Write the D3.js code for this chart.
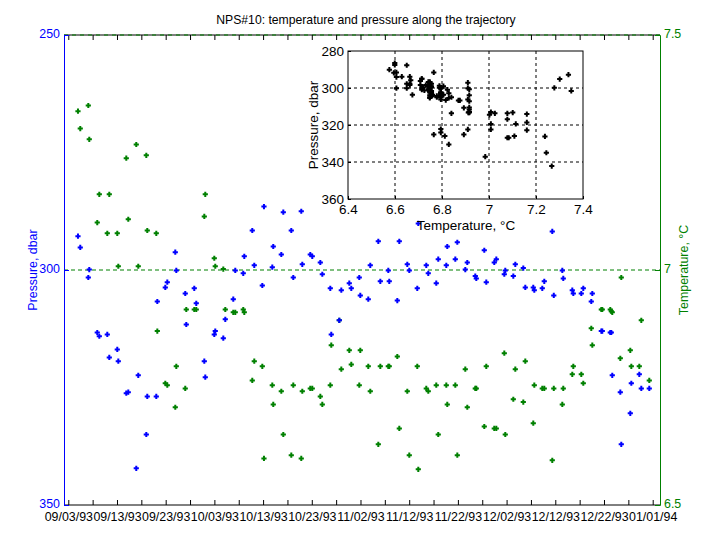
<!DOCTYPE html>
<html><head><meta charset="utf-8">
<script src="https://cdn.jsdelivr.net/npm/d3@7"></script>
<style>
body{margin:0;background:#fff;}
text{font-family:"Liberation Sans",Arial,Helvetica,sans-serif;}
</style>
</head><body>
<svg id="c" width="705" height="541"></svg>
<script>
// ---- data ----
const startDate = new Date(1993, 8, 3);
const dayOffsets = [1.99,2.46,4.11,4.31,5.95,6.37,8.01,8.42,10.06,10.27,11.91,12.32,13.96,14.37,16.02,16.22,18.07,18.28,19.92,20.33,21.97,22.18,24.02,24.23,25.87,26.28,27.93,28.13,29.98,30.18,31.83,32.24,33.88,34.29,35.93,36.14,37.78,38.19,39.84,40.18,41.89,42.09,43.74,44.15,45.79,46.20,47.84,48.05,49.69,50.10,51.75,52.16,53.80,54.00,55.65,56.06,57.70,58.11,59.75,59.96,61.60,62.01,63.66,64.07,65.71,65.91,67.56,67.97,69.61,70.02,71.66,71.87,73.51,73.92,75.56,75.97,77.62,77.82,79.47,79.88,81.52,81.93,83.57,83.78,85.42,85.83,87.47,87.89,89.53,89.73,91.38,91.79,93.43,93.84,95.48,95.69,97.33,97.74,99.38,99.69,101.44,101.64,103.49,103.70,105.34,105.75,107.39,107.60,109.45,109.65,111.29,111.50,111.70,113.35,113.55,115.40,115.61,117.25,117.66,119.30];
const pressure = [292.8,295.2,301.6,299.9,313.3,314.1,313.7,318.6,316.9,319.4,
326.2,326.0,342.2,322.4,335.0,326.9,326.9,306.7,303.7,302.6,
296.2,300.1,305.0,311.6,303.9,307.1,319.4,322.8,313.7,313.0,
314.5,310.5,306.2,300.1,300.7,297.1,291.6,299.0,303.3,286.5,
299.4,295.0,296.7,287.7,291.6,301.6,287.5,298.8,296.7,297.1,
298.4,300.9,303.9,313.7,310.7,304.3,302.8,303.9,301.6,305.4,
306.2,299.0,293.9,302.4,300.1,302.4,306.5,293.9,298.8,300.1,
303.9,290.1,299.0,300.7,302.8,297.7,299.0,295.0,297.7,294.1,
299.9,298.4,301.3,301.8,295.8,302.6,298.4,297.7,300.9,300.1,
301.3,298.8,299.6,303.7,303.7,304.3,303.9,302.4,291.8,305.4,
300.1,301.8,304.3,305.0,305.0,303.9,306.7,305.0,313.0,313.0,
313.3,313.3,322.4,326.0,337.1,330.5,324.1,322.2,325.2,325.2];
const temperature = [7.338,7.301,7.350,7.278,7.101,7.161,7.078,7.161,7.078,7.008,
7.238,7.108,7.267,7.008,7.244,7.084,7.078,6.870,6.759,6.755,
6.708,6.795,6.748,6.916,6.916,6.916,7.114,7.161,7.025,7.008,
7.002,6.916,6.910,6.910,6.916,6.910,6.765,6.806,6.795,6.599,
6.755,6.714,6.742,6.650,6.606,6.755,6.599,6.742,6.748,6.748,
6.731,6.714,6.755,6.840,6.893,6.789,6.829,6.799,6.755,6.829,
6.795,6.742,6.629,6.795,6.795,6.795,6.816,6.663,6.742,6.606,
6.795,6.576,6.748,6.742,6.755,6.650,6.755,6.714,6.755,6.606,
6.789,6.708,6.748,6.748,6.667,6.795,6.663,6.663,6.823,6.650,
6.725,6.789,6.719,6.806,6.674,6.755,6.748,6.748,6.595,6.748,
6.714,6.748,6.778,6.795,6.778,6.759,6.876,6.840,6.916,6.916,
6.916,6.912,6.910,6.812,6.984,6.829,6.795,6.795,6.893,6.765];
const dateTickLabels = ["09/03/93","09/13/93","09/23/93","10/03/93","10/13/93","10/23/93","11/02/93","11/12/93","11/22/93","12/02/93","12/12/93","12/22/93","01/01/94"];
const pressureTicks = [250,300,350];
const tempTicks = [6.5,7,7.5];
const insetTempTicks = [6.4,6.6,6.8,7,7.2,7.4];
const insetPressTicks = [280,300,320,340,360];
const titleText = "NPS#10: temperature and pressure along the trajectory";

// ---- layout ----
const svg = d3.select("#c");
const L = 64, R = 660, T = 35, B = 505;
const DAY = 864e5;
const x = d3.scaleTime()
  .domain([new Date(startDate.getTime() - 0.88*DAY), new Date(startDate.getTime() + 121.5*DAY)])
  .range([L, R]);
const yP = d3.scaleLinear().domain([250, 350]).range([T, B]);
const yT = d3.scaleLinear().domain([6.5, 7.5]).range([B, T]);
const dates = dayOffsets.map(d => new Date(startDate.getTime() + d*DAY));
const tickDates = d3.range(0, 25).map(k => d3.timeDay.offset(startDate, 5*k));

const BLUE = "#0000ff", GREEN = "#008000";
const cross = "M-2.6,0H2.6M0,-2.6V2.6";

// frame lines
svg.append("line").attr("x1", L).attr("x2", R).attr("y1", T).attr("y2", T).attr("stroke", "#000");
svg.append("line").attr("x1", L).attr("x2", R).attr("y1", T).attr("y2", T).attr("stroke", GREEN).attr("stroke-dasharray", "4,4");
svg.append("line").attr("x1", L).attr("x2", R).attr("y1", B).attr("y2", B).attr("stroke", "#000");

// dashed reference line at 300 dbar / 7 °C
svg.append("line").attr("x1", L).attr("x2", R).attr("y1", yT(7)).attr("y2", yT(7))
  .attr("stroke", GREEN).attr("stroke-dasharray", "4,3");

// bottom axis
const fmtIdx = d => { const k = Math.round((d - startDate)/DAY/5); return k % 2 === 0 ? dateTickLabels[k/2] : ""; };
const gx = svg.append("g").attr("transform", `translate(0,${B})`)
  .call(d3.axisBottom(x).tickValues(tickDates).tickSize(-5).tickPadding(7).tickFormat(fmtIdx));
gx.select(".domain").remove();
gx.selectAll("line").attr("stroke", "#000");
gx.selectAll("text").attr("font-size", 12.4).attr("fill", "#000");

// top axis ticks
const gxt = svg.append("g").attr("transform", `translate(0,${T})`)
  .call(d3.axisTop(x).tickValues(tickDates).tickSize(-5).tickFormat(""));
gxt.select(".domain").remove();
gxt.selectAll("line").attr("stroke", "#000");

// left axis
const gl = svg.append("g").attr("transform", `translate(${L},0)`)
  .call(d3.axisLeft(yP).tickValues(pressureTicks).tickSize(-5).tickPadding(4).tickFormat(d3.format("d")));
gl.select(".domain").attr("stroke", BLUE);
gl.selectAll("line").attr("stroke", BLUE);
gl.selectAll("text").attr("font-size", 12.4).attr("fill", BLUE).attr("dy", "0.2em");

// right axis
const gr = svg.append("g").attr("transform", `translate(${R},0)`)
  .call(d3.axisRight(yT).tickValues(tempTicks).tickSize(-5).tickPadding(4).tickFormat(d => String(d)));
gr.select(".domain").attr("stroke", GREEN);
gr.selectAll("line").attr("stroke", GREEN);
gr.selectAll("text").attr("font-size", 12.4).attr("fill", GREEN).attr("dy", "0.2em");

// markers
svg.append("g").selectAll("path").data(temperature).join("path")
  .attr("d", cross).attr("transform", (d, i) => `translate(${x(dates[i])},${yT(d)})`)
  .attr("stroke", GREEN).attr("stroke-width", 2).attr("fill", "none");
svg.append("g").selectAll("path").data(pressure).join("path")
  .attr("d", cross).attr("transform", (d, i) => `translate(${x(dates[i])},${yP(d)})`)
  .attr("stroke", BLUE).attr("stroke-width", 2).attr("fill", "none");

// labels
svg.append("text").attr("x", 366).attr("y", 24).attr("text-anchor", "middle").attr("font-size", 12.2).text(titleText);
svg.append("text").attr("transform", "translate(37,270) rotate(-90)").attr("text-anchor", "middle")
  .attr("font-size", 12.4).attr("fill", BLUE).text("Pressure, dbar");
svg.append("text").attr("transform", "translate(688,270) rotate(-90)").attr("text-anchor", "middle")
  .attr("font-size", 12.4).attr("fill", GREEN).text("Temperature, °C");

// ---- inset ----
const iL = 348, iR = 583, iT = 51, iB = 199;
const ix = d3.scaleLinear().domain([6.4, 7.4]).range([iL, iR]);
const iy = d3.scaleLinear().domain([280, 360]).range([iT, iB]);
const inset = svg.append("g");
inset.append("rect").attr("x", iL).attr("y", iT).attr("width", iR - iL).attr("height", iB - iT)
  .attr("fill", "#fff");
inset.append("g").selectAll("line").data(insetTempTicks.slice(1, -1)).join("line")
  .attr("x1", d => ix(d)).attr("x2", d => ix(d)).attr("y1", iT).attr("y2", iB)
  .attr("stroke", "#000").attr("stroke-dasharray", "3,3");
inset.append("g").selectAll("line").data(insetPressTicks.slice(1, -1)).join("line")
  .attr("y1", d => iy(d)).attr("y2", d => iy(d)).attr("x1", iL).attr("x2", iR)
  .attr("stroke", "#000").attr("stroke-dasharray", "3,3");
const ixa = inset.append("g").attr("transform", `translate(0,${iB})`)
  .call(d3.axisBottom(ix).tickValues(insetTempTicks).tickSize(-3).tickPadding(5).tickFormat(d => String(d)));
ixa.select(".domain").remove();
ixa.selectAll("text").attr("font-size", 13.5);
const iya = inset.append("g").attr("transform", `translate(${iL},0)`)
  .call(d3.axisLeft(iy).tickValues(insetPressTicks).tickSize(-3).tickPadding(4).tickFormat(d3.format("d")));
iya.select(".domain").remove();
iya.selectAll("text").attr("font-size", 13.5);
inset.append("rect").attr("x", iL).attr("y", iT).attr("width", iR - iL).attr("height", iB - iT)
  .attr("fill", "none").attr("stroke", "#000");
inset.append("g").selectAll("path").data(temperature).join("path")
  .attr("d", cross).attr("transform", (d, i) => `translate(${ix(d)},${iy(pressure[i])})`)
  .attr("stroke", "#000").attr("stroke-width", 2).attr("fill", "none");
inset.append("text").attr("x", 466).attr("y", 230).attr("text-anchor", "middle").attr("font-size", 13.5).text("Temperature, °C");
inset.append("text").attr("transform", "translate(318,125) rotate(-90)").attr("text-anchor", "middle")
  .attr("font-size", 13.5).text("Pressure, dbar");
</script>
</body></html>
